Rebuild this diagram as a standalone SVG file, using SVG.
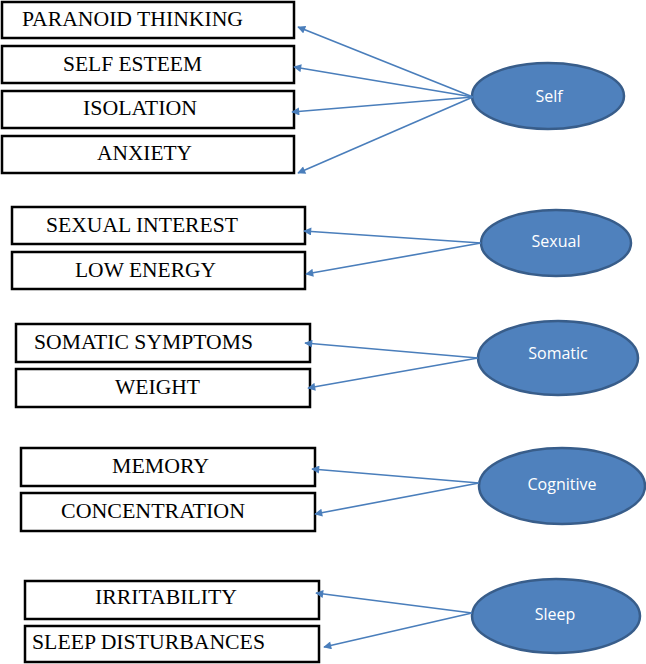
<svg xmlns="http://www.w3.org/2000/svg" width="646" height="664" viewBox="0 0 646 664">
<defs>
<style>
.box{fill:#fff;stroke:#000;stroke-width:2.5}
.bt{font-family:"Liberation Serif","Times New Roman",serif;font-size:21px;fill:#000}
.ell{fill:#4F81BD;stroke:#385D8A;stroke-width:2.5}
.et{font-family:"Open Sans","Liberation Sans",sans-serif;font-size:16px;fill:#fff;text-anchor:middle}
.con{stroke:#4A7EBB;stroke-width:1.6;fill:none;marker-end:url(#ah)}
</style>
<marker id="ah" viewBox="0 0 10 10" refX="9" refY="5" markerWidth="9" markerHeight="8" markerUnits="userSpaceOnUse" orient="auto">
<path d="M0,0 L10,5 L0,10 z" fill="#4A7EBB"/>
</marker>
</defs>
<rect width="646" height="664" fill="#fff"/>
<g id="n-paranoid"><rect class="box" x="2" y="2" width="292" height="36"/><text class="bt" x="22" y="26" textLength="221" lengthAdjust="spacingAndGlyphs">PARANOID THINKING</text></g>
<g id="n-selfesteem"><rect class="box" x="2" y="46" width="292" height="37"/><text class="bt" x="63" y="71" textLength="139" lengthAdjust="spacingAndGlyphs">SELF ESTEEM</text></g>
<g id="n-isolation"><rect class="box" x="2" y="91" width="292" height="37"/><text class="bt" x="83" y="115" textLength="114" lengthAdjust="spacingAndGlyphs">ISOLATION</text></g>
<g id="n-anxiety"><rect class="box" x="2" y="136" width="292" height="37"/><text class="bt" x="97" y="160" textLength="95" lengthAdjust="spacingAndGlyphs">ANXIETY</text></g>
<g id="n-self"><ellipse class="ell" cx="548" cy="96" rx="76" ry="33"/><text class="et" x="549" y="102">Self</text></g>

<g id="n-sexint"><rect class="box" x="12" y="207" width="293" height="37"/><text class="bt" x="46" y="232" textLength="192" lengthAdjust="spacingAndGlyphs">SEXUAL INTEREST</text></g>
<g id="n-lowenergy"><rect class="box" x="12" y="252" width="293" height="37"/><text class="bt" x="75" y="277" textLength="141" lengthAdjust="spacingAndGlyphs">LOW ENERGY</text></g>
<g id="n-sexual"><ellipse class="ell" cx="556" cy="243" rx="75" ry="33"/><text class="et" x="556" y="247">Sexual</text></g>

<g id="n-somsym"><rect class="box" x="16" y="324" width="294" height="38"/><text class="bt" x="34" y="349" textLength="219" lengthAdjust="spacingAndGlyphs">SOMATIC SYMPTOMS</text></g>
<g id="n-weight"><rect class="box" x="16" y="369" width="294" height="38"/><text class="bt" x="115" y="394" textLength="85" lengthAdjust="spacingAndGlyphs">WEIGHT</text></g>
<g id="n-somatic"><ellipse class="ell" cx="558" cy="358" rx="80" ry="37"/><text class="et" x="558" y="359">Somatic</text></g>

<g id="n-memory"><rect class="box" x="21" y="448" width="294" height="38"/><text class="bt" x="112" y="473" textLength="97" lengthAdjust="spacingAndGlyphs">MEMORY</text></g>
<g id="n-concentration"><rect class="box" x="21" y="493" width="294" height="38"/><text class="bt" x="61" y="518" textLength="184" lengthAdjust="spacingAndGlyphs">CONCENTRATION</text></g>
<g id="n-cognitive"><ellipse class="ell" cx="562" cy="486" rx="83" ry="38"/><text class="et" x="562" y="490">Cognitive</text></g>

<g id="n-irritability"><rect class="box" x="25" y="581" width="294" height="38"/><text class="bt" x="95" y="604" textLength="142" lengthAdjust="spacingAndGlyphs">IRRITABILITY</text></g>
<g id="n-sleepdist"><rect class="box" x="25" y="626" width="294" height="36"/><text class="bt" x="32" y="649" textLength="233" lengthAdjust="spacingAndGlyphs">SLEEP DISTURBANCES</text></g>
<g id="n-sleep"><ellipse class="ell" cx="556" cy="616" rx="84" ry="37"/><text class="et" x="555" y="620">Sleep</text></g>

<g id="connectors">
<line class="con" x1="473" y1="97" x2="298" y2="27"/>
<line class="con" x1="473" y1="97" x2="294" y2="67"/>
<line class="con" x1="473" y1="97" x2="292" y2="112"/>
<line class="con" x1="473" y1="97" x2="298" y2="173"/>
<line class="con" x1="481" y1="243" x2="304" y2="231"/>
<line class="con" x1="481" y1="243" x2="306" y2="274"/>
<line class="con" x1="478" y1="358" x2="305" y2="343"/>
<line class="con" x1="478" y1="358" x2="308" y2="388"/>
<line class="con" x1="479" y1="483" x2="312" y2="469"/>
<line class="con" x1="479" y1="483" x2="315" y2="514"/>
<line class="con" x1="472" y1="613" x2="316" y2="593"/>
<line class="con" x1="472" y1="613" x2="324" y2="647"/>
</g>
</svg>
